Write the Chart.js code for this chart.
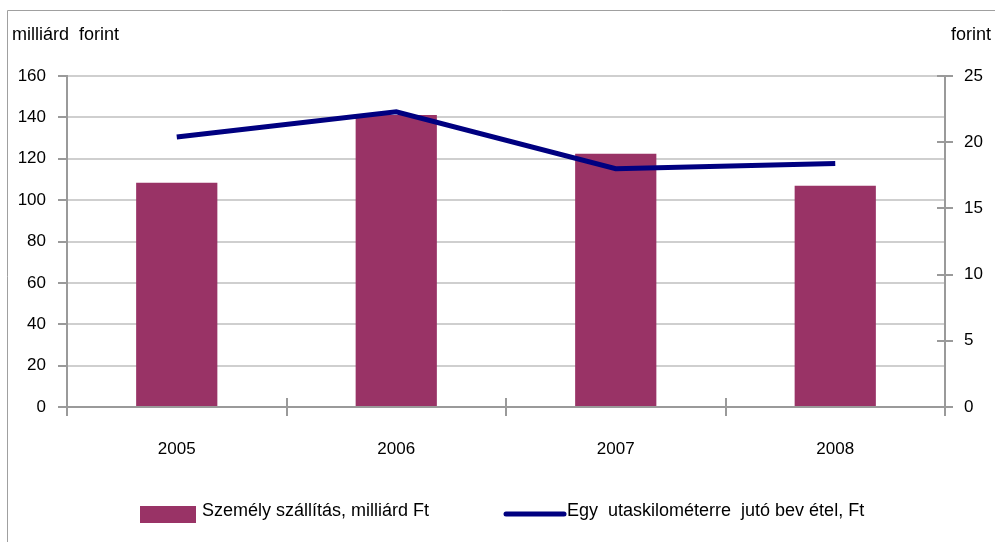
<!DOCTYPE html>
<html>
<head>
<meta charset="utf-8">
<script src="https://cdn.jsdelivr.net/npm/chart.js@4"></script>
<style>
  html, body { margin: 0; padding: 0; background: #fff; }
  #wrap { width: 995px; height: 542px; position: relative; }
</style>
</head>
<body>
<div id="wrap"><canvas id="chart" width="995" height="542"></canvas></div>
<script>
const years = ["2005", "2006", "2007", "2008"];
const passengerTransport = [108.4, 141.2, 122.4, 106.9];
const revenuePerKm = [20.4, 22.3, 18.0, 18.4];
const leftTicks = [0, 20, 40, 60, 80, 100, 120, 140, 160];
const rightTicks = [0, 5, 10, 15, 20, 25];
const labelBar = "Személy szállítás, milliárd Ft";
const labelLine = "Egy  utaskilométerre  jutó bev étel, Ft";

const FONT = "'Liberation Sans', Arial, sans-serif";
const axisGray = "#9a9a9a";
const gridGray = "#cfcfcf";

// frame, unit titles, legend and crossing tick marks
const extras = {
  id: "extras",
  beforeDraw(chart) {
    const ctx = chart.ctx;
    ctx.save();
    ctx.strokeStyle = "#a0a0a0";
    ctx.lineWidth = 1;
    ctx.beginPath();
    ctx.moveTo(7.5, 542);
    ctx.lineTo(7.5, 10.5);
    ctx.lineTo(995, 10.5);
    ctx.stroke();
    ctx.restore();
  },
  afterDraw(chart) {
    const ctx = chart.ctx;
    const area = chart.chartArea;
    const x = chart.scales.x;
    const y1 = chart.scales.y1;
    ctx.save();
    ctx.fillStyle = "#000";
    ctx.font = "18px " + FONT;
    ctx.textBaseline = "middle";
    ctx.textAlign = "left";
    ctx.fillText("milliárd  forint", 12, 35);
    ctx.textAlign = "right";
    ctx.fillText("forint", 991, 35);

    // ticks crossing the axes
    ctx.strokeStyle = axisGray;
    ctx.lineWidth = 2;
    ctx.beginPath();
    rightTicks.forEach(v => {
      const yy = Math.round(y1.getPixelForValue(v));
      ctx.moveTo(area.right - 8, yy);
      ctx.lineTo(area.right + 8, yy);
    });
    for (let i = 0; i <= years.length; i++) {
      const xx = Math.round(x.getPixelForValue(i - 0.5));
      ctx.moveTo(xx, area.bottom - 9);
      ctx.lineTo(xx, area.bottom + 9);
    }
    ctx.stroke();

    // legend
    const ds = chart.data.datasets;
    const ly = 511;
    ctx.fillStyle = ds[0].backgroundColor;
    ctx.fillRect(140, 506, 56, 17);
    ctx.fillStyle = "#000";
    ctx.textAlign = "left";
    ctx.fillText(ds[0].label, 202, ly);
    ctx.strokeStyle = ds[1].borderColor;
    ctx.lineWidth = 5;
    ctx.lineCap = "round";
    ctx.beginPath();
    ctx.moveTo(506, 514);
    ctx.lineTo(564, 514);
    ctx.stroke();
    ctx.fillText(ds[1].label, 567, ly);
    ctx.restore();
  }
};

new Chart(document.getElementById("chart"), {
  type: "bar",
  data: {
    labels: years,
    datasets: [
      {
        type: "bar",
        label: labelBar,
        data: passengerTransport,
        backgroundColor: "#993366",
        barPercentage: 0.37,
        categoryPercentage: 1,
        yAxisID: "y",
        order: 2
      },
      {
        type: "line",
        label: labelLine,
        data: revenuePerKm,
        borderColor: "#000080",
        backgroundColor: "#000080",
        borderWidth: 5,
        pointRadius: 0,
        tension: 0,
        yAxisID: "y1",
        order: 1
      }
    ]
  },
  options: {
    responsive: false,
    animation: false,
    layout: { padding: { top: 76, bottom: 0, left: 0, right: 0 } },
    plugins: {
      legend: { display: false },
      tooltip: { enabled: false }
    },
    scales: {
      x: {
        offset: true,
        grid: { display: false },
        border: { color: axisGray, width: 2 },
        ticks: { color: "#000", font: { family: FONT, size: 17 }, padding: 24 },
        afterFit(s) { s.height = 135; }
      },
      y: {
        position: "left",
        min: 0,
        max: 160,
        afterBuildTicks(s) { s.ticks = leftTicks.map(v => ({ value: v })); },
        grid: { color: gridGray, lineWidth: 2, tickLength: 9, tickColor: axisGray },
        border: { color: axisGray, width: 2 },
        ticks: { color: "#000", font: { family: FONT, size: 17 }, padding: 12 },
        afterFit(s) { s.width = 67; }
      },
      y1: {
        position: "right",
        min: 0,
        max: 25,
        afterBuildTicks(s) { s.ticks = rightTicks.map(v => ({ value: v })); },
        grid: { drawOnChartArea: false, drawTicks: false },
        border: { color: axisGray, width: 2 },
        ticks: { color: "#000", font: { family: FONT, size: 17 }, padding: 19 },
        afterFit(s) { s.width = 50; }
      }
    }
  },
  plugins: [extras]
});
</script>
</body>
</html>
